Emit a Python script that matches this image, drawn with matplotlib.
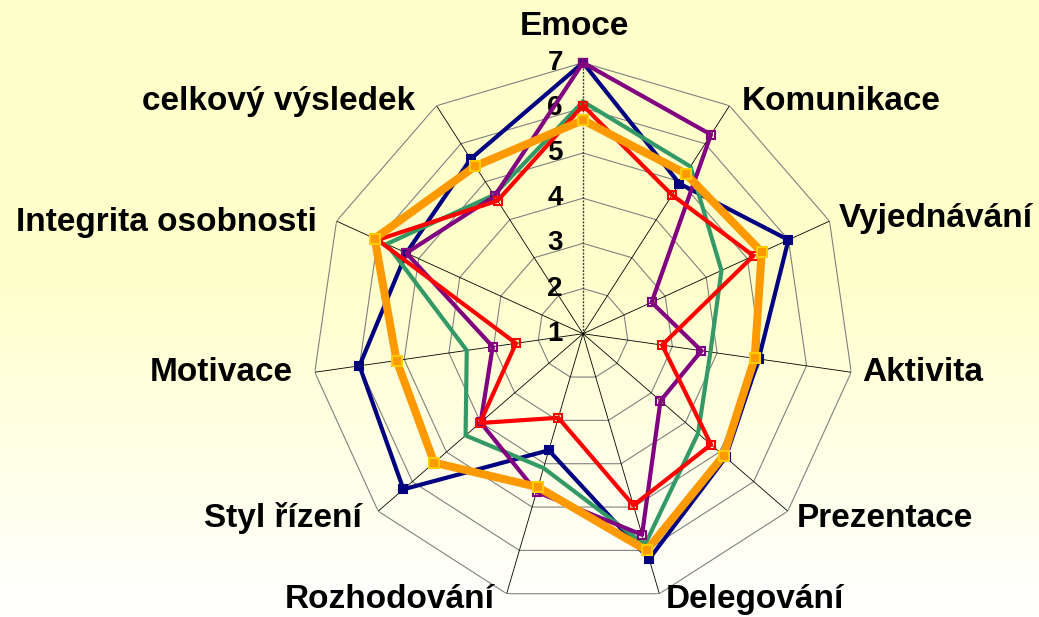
import numpy as np
import matplotlib
matplotlib.use("Agg")
import matplotlib.pyplot as plt
from matplotlib.colors import LinearSegmentedColormap

plt.rcParams["font.family"] = ["Liberation Sans", "DejaVu Sans"]
plt.rcParams["font.weight"] = "bold"

# ---- DATA ----
categories = ["Emoce", "Komunikace", "Vyjednávání", "Aktivita", "Prezentace",
              "Delegování", "Rozhodování", "Styl řízení", "Motivace",
              "Integrita osobnosti", "celkový výsledek"]

navy_vals = [7.0, 4.95, 6.0, 4.93, 5.18, 6.2, 3.69, 6.26, 6.0, 5.3, 5.6]
purple_vals = [7.0, 6.24, 2.67, 3.65, 3.27, 5.64, 4.65, 4.0, 3.02, 5.3, 4.62]
red_vals = [6.05, 4.65, 5.15, 2.77, 4.75, 4.96, 2.94, 4.02, 2.5, 6.0, 4.5]
green_vals = [6.14, 5.4, 4.37, 3.85, 4.37, 5.87, 4.1, 4.44, 3.6, 5.78, 4.65]
orange_vals = [5.73, 5.21, 5.35, 4.84, 5.12, 6.0, 4.54, 5.36, 5.17, 6.07, 5.41]

ticks = [1, 2, 3, 4, 5, 6, 7]

# label placement: (ha, dx px, dy px) relative to the outer vertex
label_pos = [("center", -9, 36), ("left", 12, 4), ("left", 9, 3), ("left", 11, 0),
             ("left", 9, -7), ("left", 6, -6), ("right", -12, -6), ("right", -16, -7),
             ("right", -22, 0), ("right", -20, -1), ("right", -21, 4)]

n = len(categories)
angles = np.arange(n) * 2 * np.pi / n
closed = np.append(angles, angles[0])

W, H = 1039, 617
fig = plt.figure(figsize=(W / 100, H / 100), dpi=100)

# ---- BACKGROUND (yellow -> white gradient) ----
bg = fig.add_axes([0, 0, 1, 1])
t = np.linspace(0, 1, 400)
f = np.clip((t - 0.45) / 0.55, 0, 1)
cmap = LinearSegmentedColormap.from_list("bg", ["#FFFFCC", "#FFFFFF"])
bg.imshow(f[:, None], aspect="auto", cmap=cmap, extent=[0, 1, 0, 1], vmin=0, vmax=1)
bg.axis("off")

# ---- RADAR AXES ----
cx, cy, R = 583, 333.7, 271
ax = fig.add_axes([(cx - R) / W, (H - cy - R) / H, 2 * R / W, 2 * R / H], projection="polar")
ax.patch.set_visible(False)
ax.set_theta_zero_location("N")
ax.set_theta_direction(-1)
ax.set_ylim(1, 7)
ax.grid(False)
ax.spines["polar"].set_visible(False)
ax.set_xticks([])
ax.set_yticks([])

# polygon rings
for r in ticks[1:]:
    ax.plot(closed, [r] * (n + 1), color="#808080", lw=0.8, zorder=1)

# spokes
for i, a in enumerate(angles):
    if i == 0:
        ax.plot([a, a], [1, 7], color="#404040", lw=1.0, ls=(0, (1.5, 1)), zorder=1)
    else:
        ax.plot([a, a], [1, 7], color="black", lw=0.6, zorder=1)

# ---- SERIES ----
def series(vals, color, lw, mfc, mec, ms, marker="s", z=3):
    v = np.append(vals, vals[0])
    ax.plot(closed, v, color=color, lw=lw, marker=marker, ms=ms,
            mfc=mfc, mec=mec, mew=1.5, zorder=z, clip_on=False)

series(navy_vals, "#000080", 3.0, "#000080", "#000080", 6, z=3)
series(green_vals, "#339966", 3.0, "none", "none", 0, marker=None, z=4)
series(purple_vals, "#800080", 3.0, "none", "#800080", 6, z=5)
series(red_vals, "#FF0000", 3.0, "none", "#FF0000", 6, z=6)
series(orange_vals, "#FF9900", 5.8, "#FF9900", "#FFCC00", 7, z=7)

# ---- VALUE AXIS LABELS ----
for r in ticks:
    ax.annotate(str(r), xy=(0, r), xytext=(-20, 0), textcoords="offset pixels",
                ha="right", va="center", fontsize=20, fontweight="bold",
                annotation_clip=False)

# ---- CATEGORY LABELS ----
for a, name, (ha, dx, dy) in zip(angles, categories, label_pos):
    ax.annotate(name, xy=(a, 7), xytext=(dx, dy), textcoords="offset pixels",
                ha=ha, va="center", fontsize=24, fontweight="bold",
                annotation_clip=False)

fig.savefig("out.png", dpi=100)
